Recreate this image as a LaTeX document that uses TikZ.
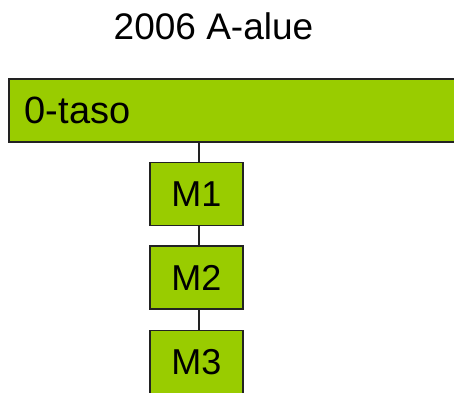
\documentclass[tikz,border=0pt]{standalone}
\usepackage{fontspec}
\setmainfont{Liberation Sans}
\definecolor{boxgreen}{HTML}{99CC00}
\definecolor{edge}{HTML}{222222}
\begin{document}
\begin{tikzpicture}[x=1pt,y=-1pt,
  gbox/.style={draw=edge, line width=1.5pt, fill=boxgreen, inner sep=0pt},
  mbox/.style={gbox, minimum width=93pt, minimum height=63pt,
    font=\fontsize{36}{42}\selectfont},
  link/.style={draw=edge, line width=1.2pt}]
\useasboundingbox (0,0) rectangle (454,392);
\clip (0,0) rectangle (454,392);
\node[font=\fontsize{37}{44}\selectfont] (title) at (213.5,26.5) {2006 A-alue};
\node[gbox, anchor=north west, minimum width=470pt, minimum height=63pt,
  text width=438pt, align=left, font=\fontsize{38}{44}\selectfont] (top) at (8,78) {0-taso};
\node[mbox] (m1) at (196.5,194) {M1};
\node[mbox] (m2) at (196.5,277.5) {M2};
\node[mbox] (m3) at (196.5,362) {M3};
\coordinate (t1) at (199,141);
\draw[link] (t1) -- (t1 |- m1.north);
\draw[link] (m1.south -| t1) -- (m2.north -| t1);
\draw[link] (m2.south -| t1) -- (m3.north -| t1);
\end{tikzpicture}
\end{document}
